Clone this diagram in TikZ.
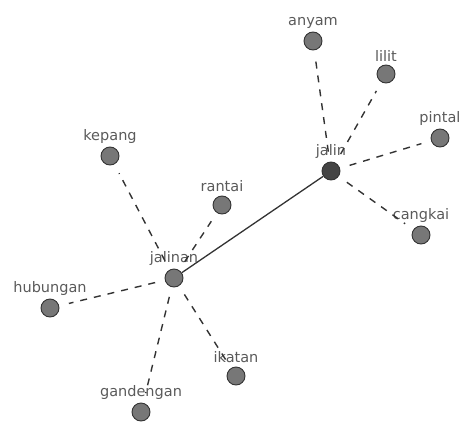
\documentclass[tikz,border=0pt]{standalone}
\usepackage{fontspec}
\setmainfont{DejaVu Sans}

\definecolor{termfill}{HTML}{777777}
\definecolor{hubfill}{HTML}{444444}
\definecolor{linkgray}{HTML}{333333}
\definecolor{textgray}{HTML}{5A5A5A}

\tikzset{
  term/.style={draw=linkgray, shape=circle, fill=termfill, minimum size=18pt, inner sep=0pt, line width=0.9pt,
    label distance=0pt, label={[text=textgray, font=\fontsize{14.5}{14.5}\selectfont]above:#1}},
  hub/.style={term=#1, fill=hubfill},
  weak/.style={draw=linkgray, dashed, dash pattern=on 7pt off 7pt, line width=1.4pt},
  strong/.style={draw=linkgray, line width=1.3pt}
}

\begin{document}
\begin{tikzpicture}[x=1pt, y=-1pt]
  \useasboundingbox (0,0) rectangle (460,423);

  % Hub nodes
  \node[hub=jalin] (jalin) at (331,171) {};
  \node[term=jalinan] (jalinan) at (174,278) {};
  % Nodes round jalin
  \node[term=anyam] (anyam) at (313,41) {};
  \node[term=lilit] (lilit) at (386,74) {};
  \node[term=pintal] (pintal) at (440,138) {};
  \node[term=cangkai] (cangkai) at (421,235) {};
  % Nodes round jalinan
  \node[term=kepang] (kepang) at (110,156) {};
  \node[term=rantai] (rantai) at (222,205) {};
  \node[term=hubungan] (hubungan) at (50,308) {};
  \node[term=ikatan] (ikatan) at (236,376) {};
  \node[term=gandengan] (gandengan) at (141,412) {};

  % Link between the hubs
  \path[strong] (jalin) to (jalinan);
  % Links of jalin
  \path[weak, shorten <=10pt, shorten >=10pt] (jalin) to (anyam);
  \path[weak, shorten <=10pt, shorten >=10pt] (jalin) to (lilit);
  \path[weak, shorten <=10pt, shorten >=10pt] (jalin) to (pintal);
  \path[weak, shorten <=10pt, shorten >=10pt] (jalin) to (cangkai);
  % Links of jalinan
  \path[weak, shorten <=10pt, shorten >=10pt] (jalinan) to (kepang);
  \path[weak, shorten <=10pt, shorten >=10pt] (jalinan) to (rantai);
  \path[weak, shorten <=10pt, shorten >=10pt] (jalinan) to (hubungan);
  \path[weak, shorten <=10pt, shorten >=10pt] (jalinan) to (ikatan);
  \path[weak, shorten <=10pt, shorten >=10pt] (jalinan) to (gandengan);

\end{tikzpicture}
\end{document}
